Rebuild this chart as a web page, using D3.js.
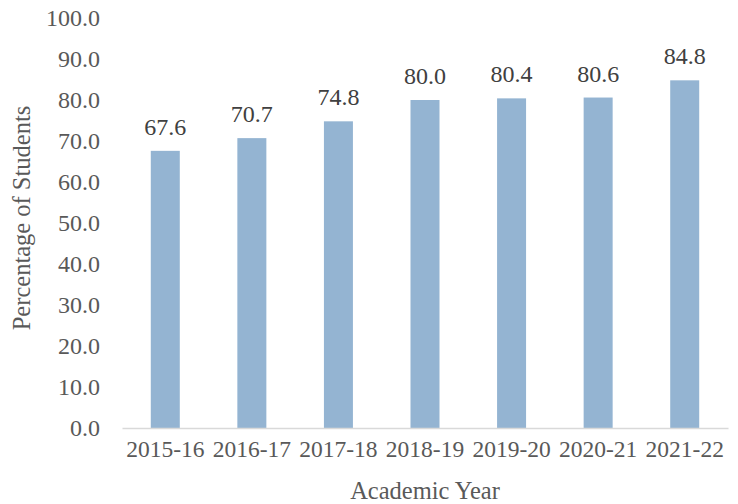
<!DOCTYPE html>
<html><head><meta charset="utf-8">
<script src="https://cdn.jsdelivr.net/npm/d3@7"></script>
<style>body{margin:0;background:#fff}svg{display:block}</style>
</head><body>
<script>
const categories = ["2015-16","2016-17","2017-18","2018-19","2019-20","2020-21","2021-22"];
const values = [67.6, 70.7, 74.8, 80.0, 80.4, 80.6, 84.8];
const yTicks = [0,10,20,30,40,50,60,70,80,90,100];
const xTitle = "Academic Year";
const yTitle = "Percentage of Students";

const W = 738, H = 504;
const m = {left:122, right:10, top:18, bottom:76};
const font = "'Liberation Serif','Times New Roman',serif";
const txt = "#595959";
const svg = d3.select("body").append("svg").attr("width",W).attr("height",H);

const x = d3.scaleBand().domain(categories).range([m.left, W-m.right]).paddingInner(0.665).paddingOuter(0.3325);
const y = d3.scaleLinear().domain([0,100]).range([H-m.bottom, m.top]);

// y tick labels
const ya = svg.append("g").attr("transform",`translate(${m.left},0)`)
  .call(d3.axisLeft(y).tickValues(yTicks).tickFormat(d3.format(".1f")).tickSize(0).tickPadding(22));
ya.select(".domain").remove();
ya.selectAll("text").attr("font-family",font).attr("font-size",24).attr("fill",txt);

// bars
svg.append("g").selectAll("rect").data(values).join("rect")
  .attr("x",(d,i)=>x(categories[i])).attr("width",x.bandwidth())
  .attr("y",d=>y(d)).attr("height",d=>y(0)-y(d)).attr("fill","#94b4d2");

// value labels
svg.append("g").selectAll("text").data(values).join("text")
  .attr("x",(d,i)=>x(categories[i])+x.bandwidth()/2).attr("y",d=>y(d)-16)
  .attr("text-anchor","middle").attr("font-family",font).attr("font-size",24).attr("fill","#404040")
  .text(d=>d3.format(".1f")(d));

// x axis
const xa = svg.append("g").attr("transform",`translate(0,${y(0)})`)
  .call(d3.axisBottom(x).tickSize(0).tickPadding(12));
xa.select(".domain").attr("stroke","#d9d9d9").attr("stroke-width",1.5);
xa.selectAll("text").attr("font-family",font).attr("font-size",23.5).attr("fill",txt);

svg.append("text").attr("x",425).attr("y",499)
  .attr("text-anchor","middle").attr("font-family",font).attr("font-size",24.5).attr("fill",txt).text(xTitle);
svg.append("text").attr("transform",`translate(30,218) rotate(-90)`)
  .attr("text-anchor","middle").attr("font-family",font).attr("font-size",24.5).attr("fill",txt).text(yTitle);
</script>
</body></html>
